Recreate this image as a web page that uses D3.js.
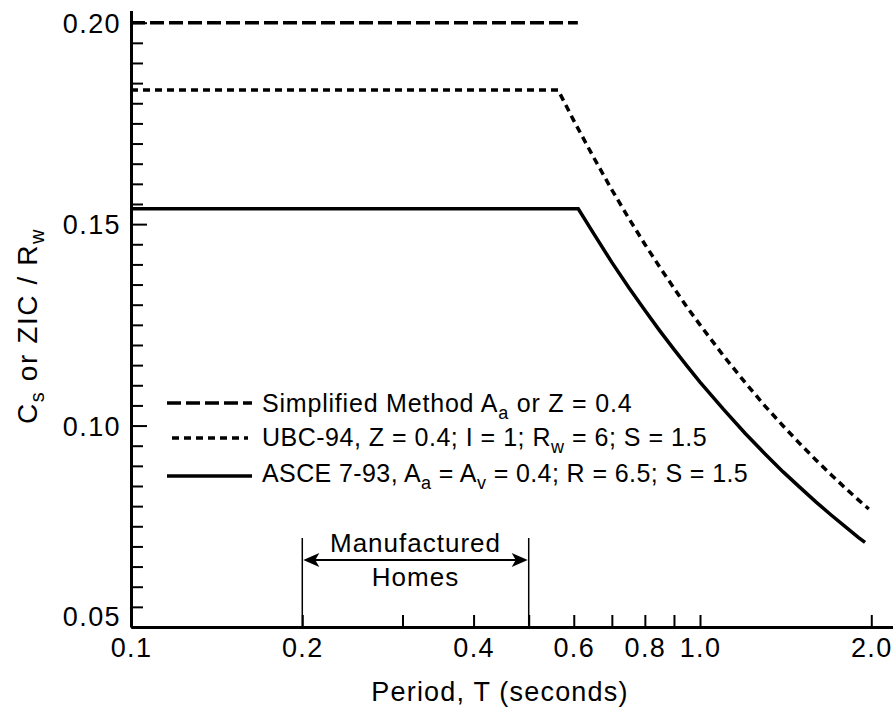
<!DOCTYPE html>
<html>
<head>
<meta charset="utf-8">
<title>Seismic coefficient vs period</title>
<script src="https://cdn.jsdelivr.net/npm/d3@7"></script>
<style>
    body { margin: 0; background: #fff; }
    svg { display: block; }
    text { font-family: "Liberation Sans", Arial, Helvetica, sans-serif; fill: #000; }
</style>
</head>
<body>
<script>
    var width = 893;
    var height = 710;

    // tick values
    var periodTicks = [0.1, 0.2, 0.3, 0.4, 0.5, 0.6, 0.7, 0.8, 0.9, 1.0, 2.0];
    var periodLabels = [0.1, 0.2, 0.4, 0.6, 0.8, 1.0, 2.0];
    var coefMajor = [0.05, 0.10, 0.15, 0.20];

    // Simplified Method Aa or Z = 0.4
    var simpT = [0.1, 0.61];
    var simpC = [0.20, 0.20];

    // UBC-94
    var ubcT = [0.1, 0.563, 0.6, 0.65, 0.7, 0.75, 0.8, 0.85, 0.9, 0.95, 1.0, 1.1, 1.2, 1.3, 1.4, 1.5, 1.6, 1.7, 1.8, 1.9, 1.98];
    var ubcC = [0.1833, 0.1833, 0.1757, 0.1666, 0.1585, 0.1514, 0.1450, 0.1393, 0.1341, 0.1293, 0.1250, 0.1173, 0.1107, 0.1049, 0.0999, 0.0954, 0.0914, 0.0878, 0.0845, 0.0815, 0.0793];

    // ASCE 7-93
    var asceT = [0.1, 0.611, 0.65, 0.7, 0.75, 0.8, 0.85, 0.9, 0.95, 1.0, 1.1, 1.2, 1.3, 1.4, 1.5, 1.6, 1.7, 1.8, 1.9, 1.95];
    var asceC = [0.1538, 0.1538, 0.1477, 0.1405, 0.1342, 0.1286, 0.1235, 0.1189, 0.1147, 0.1108, 0.1040, 0.0981, 0.0930, 0.0885, 0.0846, 0.0810, 0.0778, 0.0749, 0.0722, 0.0710];

    // manufactured homes band
    var homesRange = [0.2, 0.5];

    var svg = d3.select("body")
        .append("svg")
        .attr("width", width)
        .attr("height", height);

    var x = d3.scaleLog()
        .domain([0.1, 2.3])
        .range([131, 131 + Math.log10(23) * 569]);
    var y = d3.scaleLinear()
        .domain([0.05, 0.203])
        .range([627, 10.6]);

    var fmt = d3.format(".1f");

    // x axis
    var xAxis = svg.append("g")
        .attr("transform", "translate(0,627)")
        .call(d3.axisBottom(x)
            .tickValues(periodTicks)
            .tickSize(-12)
            .tickSizeOuter(0)
            .tickPadding(11)
            .tickFormat(function(d) { return periodLabels.indexOf(d) >= 0 ? fmt(d) : ""; }));

    // y axis, minor then major
    var minor = d3.range(0.055, 0.2001, 0.005).filter(function(v) {
        return Math.abs(v * 20 - Math.round(v * 20)) > 1e-6;
    });
    svg.append("g")
        .attr("class", "minor")
        .attr("transform", "translate(131,0)")
        .call(d3.axisLeft(y).tickValues(minor).tickSize(-12).tickSizeOuter(0).tickFormat(""));
    var yAxis = svg.append("g")
        .attr("transform", "translate(131,0)")
        .call(d3.axisLeft(y)
            .tickValues(coefMajor)
            .tickSize(-16)
            .tickSizeOuter(0)
            .tickPadding(11)
            .tickFormat(d3.format(".2f")));
    svg.select(".minor .domain").remove();
    svg.selectAll(".minor text").remove();

    svg.selectAll(".domain").attr("stroke-width", 3);
    svg.selectAll(".tick line").attr("stroke-width", 2);
    svg.selectAll("g").attr("font-size", null).attr("font-family", null);
    svg.selectAll(".tick text")
        .style("font-size", "27px")
        .style("letter-spacing", "1.4px")
        .attr("fill", "#000");
    yAxis.selectAll(".tick text")
        .attr("x", -10)
        .attr("dy", function(d) { return d === 0.05 ? "-0.05em" : "0.36em"; });

    // curves
    var line = d3.line()
        .x(function(d) { return x(d[0]); })
        .y(function(d) { return y(d[1]); });

    var series = [
        { t: simpT, c: simpC, dash: "14,5" },
        { t: ubcT, c: ubcC, dash: "7,5" },
        { t: asceT, c: asceC, dash: null }
    ];

    svg.append("g").selectAll("path")
        .data(series)
        .enter()
        .append("path")
        .attr("fill", "none")
        .attr("stroke", "#000")
        .attr("stroke-width", 3.5)
        .attr("stroke-dasharray", function(d) { return d.dash; })
        .attr("d", function(d) { return line(d.t.map(function(t, i) { return [t, d.c[i]]; })); });

    // legend
    var legendRows = [
        { y: 403, x0: 167, x1: 252, dash: "14,5" },
        { y: 438, x0: 172, x1: 248, dash: "7,5" },
        { y: 476, x0: 167, x1: 252, dash: null }
    ];
    var legend = svg.append("g");
    legend.selectAll("line")
        .data(legendRows)
        .enter()
        .append("line")
        .attr("x1", function(d) { return d.x0; })
        .attr("x2", function(d) { return d.x1; })
        .attr("y1", function(d) { return d.y; })
        .attr("y2", function(d) { return d.y; })
        .attr("stroke", "#000")
        .attr("stroke-width", 3.5)
        .attr("stroke-dasharray", function(d) { return d.dash; });

    // parts: plain strings, or {s: "..."} for a subscript
    function subText(g, xPos, yPos, parts, size, spacing) {
        var t = g.append("text")
            .attr("x", xPos)
            .attr("y", yPos)
            .style("font-size", size + "px")
            .style("letter-spacing", spacing + "px");
        var shift = 0;
        parts.forEach(function(p) {
            if (typeof p === "string") {
                t.append("tspan").attr("dy", -shift).style("font-size", size + "px").text(p);
                shift = 0;
            } else {
                t.append("tspan").attr("dy", 7).style("font-size", Math.round(size * 0.72) + "px").text(p.s);
                shift = 7;
            }
        });
        return t;
    }

    subText(legend, 262, 412, ["Simplified Method A", { s: "a" }, " or Z = 0.4"], 25, 0.8);
    subText(legend, 262, 446, ["UBC-94, Z = 0.4; I = 1; R", { s: "w" }, " = 6; S = 1.5"], 25, 0.5);
    subText(legend, 262, 482, ["ASCE 7-93, A", { s: "a" }, " = A", { s: "v" }, " = 0.4; R = 6.5; S = 1.5"], 25, 0.4);

    // manufactured homes annotation
    var ann = svg.append("g");
    ann.selectAll("line")
        .data(homesRange)
        .enter()
        .append("line")
        .attr("x1", function(d) { return x(d); })
        .attr("x2", function(d) { return x(d); })
        .attr("y1", 538)
        .attr("y2", 626)
        .attr("stroke", "#000")
        .attr("stroke-width", 1.5);

    var ax0 = x(homesRange[0]) + 1, ax1 = x(homesRange[1]) - 1, ay = 560;
    ann.append("line")
        .attr("x1", ax0 + 10).attr("x2", ax1 - 10)
        .attr("y1", ay).attr("y2", ay)
        .attr("stroke", "#000").attr("stroke-width", 2);
    ann.append("path")
        .attr("d", "M" + ax0 + "," + ay + "l16,-7l-4,7l4,7z" +
                   "M" + ax1 + "," + ay + "l-16,-7l4,7l-4,7z")
        .attr("fill", "#000");

    var midX = (x(homesRange[0]) + x(homesRange[1])) / 2;
    ann.append("text").attr("x", midX).attr("y", 552).attr("text-anchor", "middle")
        .style("font-size", "26px").style("letter-spacing", "1px").text("Manufactured");
    ann.append("text").attr("x", midX).attr("y", 586).attr("text-anchor", "middle")
        .style("font-size", "26px").style("letter-spacing", "1px").text("Homes");

    // axis titles
    svg.append("text")
        .attr("x", 500)
        .attr("y", 701)
        .attr("text-anchor", "middle")
        .style("font-size", "27px")
        .style("letter-spacing", "1.2px")
        .text("Period, T (seconds)");

    var yt = subText(svg.append("g").attr("transform", "translate(37,326) rotate(-90)"),
        0, 0, ["C", { s: "s" }, " or ZIC / R", { s: "w" }], 28, 1.6);
    yt.attr("text-anchor", "middle");
</script>
</body>
</html>
